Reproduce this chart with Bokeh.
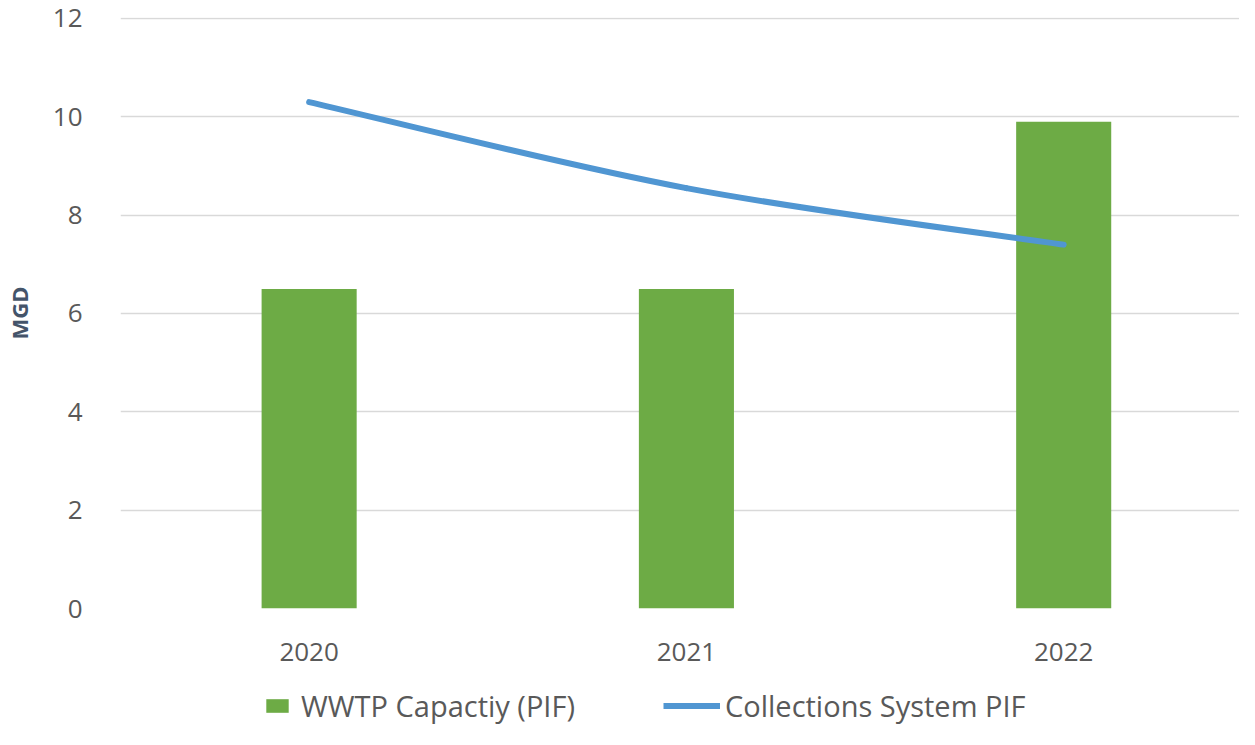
from bokeh.plotting import figure
from bokeh.models import Range1d, FixedTicker, Legend, LegendItem
from bokeh.layouts import column
from bokeh.embed import file_html
from bokeh.resources import INLINE

years = ["2020", "2021", "2022"]
wwtp_capacity = [6.5, 6.5, 9.9]
collections_pif = [10.3, 8.55, 7.4]
y_ticks = [0, 2, 4, 6, 8, 10, 12]
series_names = ["WWTP Capactiy (PIF)", "Collections System PIF"]

xs = [i + 0.5 for i in range(len(years))]

FONT = "Open Sans"
GREEN = "#6dab45"
BLUE = "#5096d2"
TXT = "#595959"
NAN = float("nan")

# ---------------- main chart ----------------
p = figure(width=1239, height=676, output_backend="svg", toolbar_location=None,
           x_range=Range1d(0, 2.966), y_range=Range1d(0, 12.02),
           min_border_left=118, min_border_right=0, min_border_top=17, min_border_bottom=68)
p.outline_line_color = None
p.background_fill_color = "white"

p.vbar(x=xs, top=wwtp_capacity, width=0.252, fill_color=GREEN, line_color=None)

# smoothed line through the data points (Catmull-Rom converted to cubic Bezier)
pts = list(zip(xs, collections_pif))
x0s, y0s, x1s, y1s, cx0, cy0, cx1, cy1 = [], [], [], [], [], [], [], []
n = len(pts)
for i in range(n - 1):
    pm = pts[max(i - 1, 0)]
    pa = pts[i]
    pb = pts[i + 1]
    pn = pts[min(i + 2, n - 1)]
    x0s.append(pa[0]); y0s.append(pa[1])
    x1s.append(pb[0]); y1s.append(pb[1])
    cx0.append(pa[0] + (pb[0] - pm[0]) / 6); cy0.append(pa[1] + (pb[1] - pm[1]) / 6)
    cx1.append(pb[0] - (pn[0] - pa[0]) / 6); cy1.append(pb[1] - (pn[1] - pa[1]) / 6)
p.bezier(x0=x0s, y0=y0s, x1=x1s, y1=y1s, cx0=cx0, cy0=cy0, cx1=cx1, cy1=cy1,
         line_color=BLUE, line_width=6, line_cap="round")

p.xaxis.ticker = FixedTicker(ticks=xs)
p.xaxis.major_label_overrides = {x: y for x, y in zip(xs, years)}
p.yaxis.ticker = FixedTicker(ticks=y_ticks)
for ax in (p.xaxis[0], p.yaxis[0]):
    ax.axis_line_color = None
    ax.major_tick_line_color = None
    ax.minor_tick_line_color = None
    ax.major_label_text_font = FONT
    ax.major_label_text_font_size = "26px"
    ax.major_label_text_color = TXT
p.xaxis.major_label_standoff = 28
p.yaxis.major_label_standoff = 32
p.yaxis.axis_label = "MGD"
p.yaxis.axis_label_text_font = FONT
p.yaxis.axis_label_text_font_size = "22px"
p.yaxis.axis_label_text_font_style = "bold"
p.yaxis.axis_label_text_color = "#44546a"
p.yaxis.axis_label_standoff = 16

p.xgrid.grid_line_color = None
p.ygrid.ticker = FixedTicker(ticks=y_ticks)
p.ygrid.grid_line_color = "#d9d9d9"
p.ygrid.grid_line_width = 1.5

# ---------------- legend strip ----------------
lg = figure(width=1239, height=53, output_backend="svg", toolbar_location=None,
            x_range=Range1d(0, 1), y_range=Range1d(0, 1),
            x_axis_type=None, y_axis_type=None,
            min_border_left=0, min_border_right=0, min_border_top=0, min_border_bottom=0)
lg.outline_line_color = None
lg.xgrid.visible = False
lg.ygrid.visible = False
bar_proxy = lg.vbar(x=[NAN], top=[NAN], width=0.1, fill_color=GREEN, line_color=None)
line_proxy = lg.line(x=[NAN], y=[NAN], line_color=BLUE, line_width=6)

def make_legend(label, rend, loc, gw, standoff):
    return Legend(items=[LegendItem(label=label, renderers=[rend])], location=loc,
                  orientation="horizontal", glyph_width=gw, glyph_height=17,
                  label_standoff=standoff, label_text_font=FONT,
                  label_text_font_size="29px", label_text_color=TXT,
                  background_fill_alpha=0, border_line_color=None, padding=0, margin=0)

lg.add_layout(make_legend(series_names[0], bar_proxy, (143, 4), 28, 10))
lg.add_layout(make_legend(series_names[1], line_proxy, (543, 4), 57, 5))

open("out.html", "w").write(file_html(column(p, lg, spacing=0), INLINE))
